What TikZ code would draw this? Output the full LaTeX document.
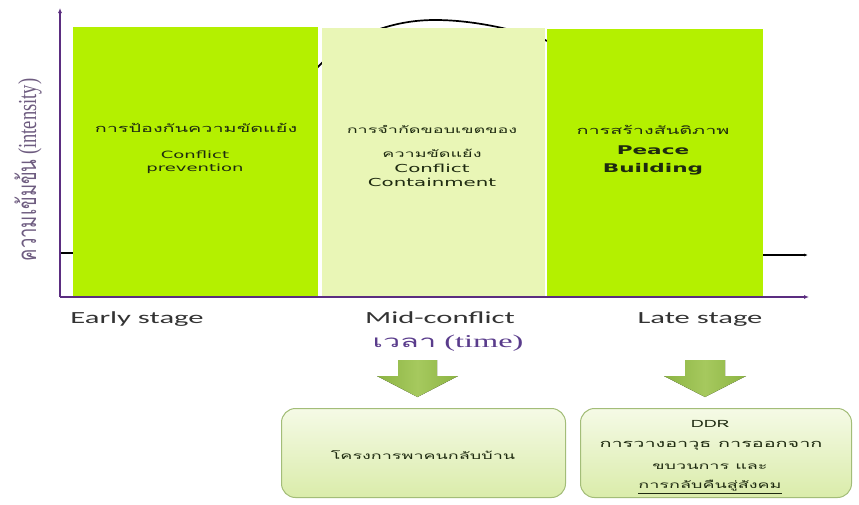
\documentclass[tikz,border=0pt]{standalone}
\usepackage{fontspec}
\usetikzlibrary{arrows.meta}
\setmainfont{Liberation Serif}
\newfontfamily\thaiS[Script=Thai,FakeStretch=1.8]{Loma}
\newfontfamily\thaiR[Script=Thai]{Loma}
\newfontfamily\labf[FakeStretch=1.8]{Carlito}
\newfontfamily\boxf[FakeStretch=1.8]{DejaVu Sans}
\newfontfamily\serifS[FakeStretch=1.8]{Liberation Serif}
\definecolor{axispurple}{HTML}{5B2D80}
\definecolor{brightgreen}{HTML}{B4F000}
\definecolor{palegreen}{HTML}{E9F6B6}
\definecolor{arrowgreen}{HTML}{8CB443}
\definecolor{arrowlight}{HTML}{A6C95E}
\definecolor{boxborder}{HTML}{A3BD78}
\definecolor{boxtop}{HTML}{F5FAE6}
\definecolor{boxbot}{HTML}{DAECAA}
\definecolor{txtdark}{HTML}{1E2A10}
\definecolor{labgray}{HTML}{333333}
\definecolor{timepurple}{HTML}{5A3C8C}
\definecolor{ylabcol}{HTML}{6E5C80}
\tikzset{
  axisline/.style={draw=axispurple, line width=1.4pt, -{Latex[length=5pt,width=4pt]}},
  curveline/.style={draw=black, line width=1.7pt},
  stagebox/.style={draw=none, inner sep=0pt, anchor=north west},
  stagetext/.style={text=txtdark, align=center, inner sep=0pt},
  stagelabel/.style={text=labgray, inner sep=0pt, font=\labf\fontsize{17}{20}\selectfont},
  resultbox/.style={draw=boxborder, line width=1pt, rounded corners=14pt, top color=boxtop, bottom color=boxbot, inner sep=0pt, anchor=north west},
  downarrow/.style={draw=none, left color=arrowgreen, right color=arrowgreen, middle color=arrowlight}
}
\begin{document}
\begin{tikzpicture}[x=1pt,y=-1pt]
\useasboundingbox[fill=white] (0,0) rectangle (859,504);
% curve (behind the boxes)
\coordinate (c0) at (60,253);
\coordinate (c1) at (72,253);
\coordinate (c9) at (762,255);
\coordinate (c10) at (808,255);
\draw[curveline] (c0) -- (c1);
\draw[curveline] (c1) .. controls (200,253) and (270,110) .. (330,55)
  .. controls (365,30) and (400,20) .. (435,20)
  .. controls (470,20) and (510,28) .. (545,40)
  .. controls (640,80) and (680,250) .. (c9);
\draw[curveline, -{Latex[length=4pt,width=3pt]}] (c9) -- (c10);
% stage boxes
\node[stagebox, fill=brightgreen, minimum width=245pt, minimum height=269pt] (prev) at (73,27) {};
\node[stagebox, fill=palegreen, minimum width=223pt, minimum height=268pt] (cont) at (322,28) {};
\node[stagebox, fill=brightgreen, minimum width=216pt, minimum height=267pt] (build) at (547,29) {};
% axes
\coordinate (origin) at (60,297);
\coordinate (ytop) at (60,8);
\coordinate (xend) at (809,297);
\draw[axisline] (origin) -- (ytop);
\draw[axisline] (origin) -- (xend);
% stage texts
\node[stagetext, font=\thaiS\fontsize{11}{12}\selectfont] (prevth) at (196,128) {การป้องกันความขัดแย้ง};
\node[stagetext, font=\boxf\fontsize{10}{12.5}\selectfont, anchor=north] (preven) at (195,151) {Conflict\\prevention};
\node[stagetext, font=\thaiS\fontsize{10}{12}\selectfont] (contth1) at (432,129) {การจำกัดขอบเขตของ};
\node[stagetext, font=\thaiS\fontsize{10}{12}\selectfont] (contth2) at (432,153) {ความขัดแย้ง};
\node[stagetext, font=\boxf\fontsize{11}{14}\selectfont, anchor=north] (conten) at (432,164) {Conflict\\Containment};
\node[stagetext, font=\thaiS\fontsize{11}{12}\selectfont] (buildth) at (653,130) {การสร้างสันติภาพ};
\node[stagetext, font=\boxf\bfseries\fontsize{12}{18}\selectfont, anchor=north] (builden) at (653,146) {Peace\\Building};
% axis labels
\node[stagelabel] (early) at (137,319) {Early stage};
\node[stagelabel] (mid) at (440,318) {Mid-conflict};
\node[stagelabel] (late) at (700,319) {Late stage};
\node[inner sep=0pt, text=timepurple] (time) at (448,343) {{\thaiS\fontsize{17}{20}\selectfont เวลา}{\serifS\fontsize{18}{20}\selectfont\ (time)}};
\node[inner sep=0pt, text=ylabcol, rotate=90] (ylab) at (28,170) {\scalebox{1}[1.4]{{\thaiR\fontsize{18.5}{20}\selectfont ความเข้มข้น}{\fontsize{18.5}{20}\selectfont\ (intensity)}}};
% result boxes
\node[resultbox, minimum width=284pt, minimum height=89pt] (home) at (281,408) {};
\node[resultbox, minimum width=271pt, minimum height=89pt] (ddr) at (580,408) {};
\node[stagetext, font=\thaiS\fontsize{10}{12}\selectfont] (hometext) at (423,455) {โครงการพาคนกลับบ้าน};
\node[stagetext, font=\thaiS\fontsize{10}{12}\selectfont] (ddr1) at (710,424) {DDR};
\node[stagetext, font=\thaiS\fontsize{11}{12}\selectfont] (ddr2) at (711,446) {การวางอาวุธ การออกจาก};
\node[stagetext, font=\thaiS\fontsize{10}{12}\selectfont] (ddr3) at (710,467) {ขบวนการ และ};
\node[stagetext, font=\thaiS\fontsize{10}{12}\selectfont] (ddr4) at (710,487) {\underline{การกลับคืนสู่สังคม}};
% down arrows
\fill[downarrow] (398,360) -- (437,360) -- (437,376) -- (458,376) -- (417.5,397) -- (377,376) -- (398,376) -- cycle;
\fill[downarrow] (685,360) -- (725,360) -- (725,376) -- (746,376) -- (705,397) -- (664,376) -- (685,376) -- cycle;
\end{tikzpicture}
\end{document}
